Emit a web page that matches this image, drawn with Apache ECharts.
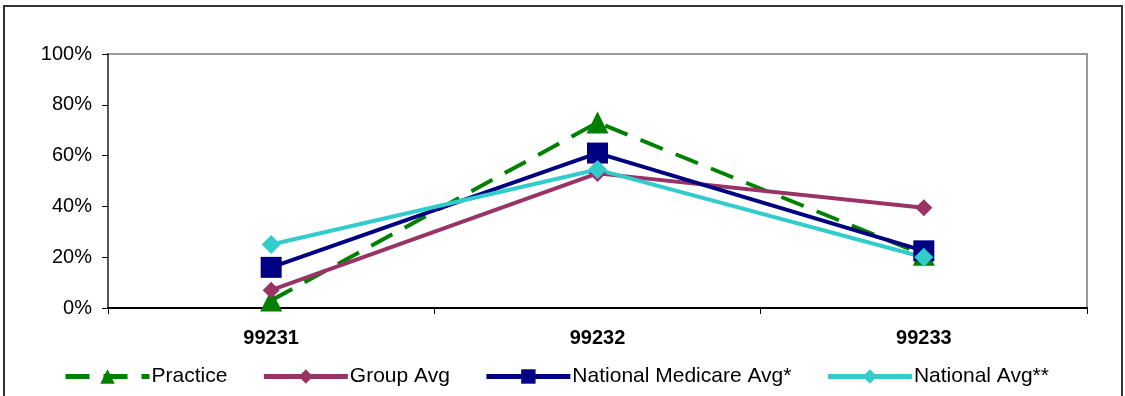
<!DOCTYPE html>
<html><head><meta charset="utf-8">
<script src="https://cdn.jsdelivr.net/npm/echarts@6/dist/echarts.min.js"></script>
<style>
html,body{margin:0;padding:0;background:#fff;}
#frame{position:absolute;left:3px;top:5px;width:1120px;height:400px;border:2px solid #333;box-sizing:border-box;}
#c{position:absolute;left:0;top:0;width:1125px;height:396px;}
</style></head>
<body>
<div id="frame"></div>
<div id="c"></div>
<script>
const categories = ['99231', '99232', '99233'];
const practice = [3, 73, 21];
const groupAvg = [7, 53, 39.5];
const nationalMedicare = [16, 61, 22.5];
const nationalAvg = [25, 54.5, 20];
const yTicks = [0, 20, 40, 60, 80, 100];

const chart = echarts.init(document.getElementById('c'), null, {renderer: 'canvas'});
const font = 'Liberation Sans, Arial, sans-serif';
function mk(name, data, color, symbol, size, dashed) {
  return {
    name, type: 'line', data, symbol, symbolSize: size,
    lineStyle: {color, width: 4, type: dashed ? [24, 14] : 'solid'},
    itemStyle: {color},
    z: 2
  };
}
chart.setOption({
  animation: false,
  grid: {left: 108, right: 38, top: 54, bottom: 88, show: true, borderColor: '#999', borderWidth: 2},
  legend: {
    top: 361, left: 58, itemWidth: 84, itemHeight: 18, itemGap: 34,
    lineStyle: {width: 5},
    textStyle: {fontFamily: font, fontSize: 21, color: '#000', padding: [0, 0, 0, -3]},
    data: ['Practice', 'Group Avg', 'National Medicare Avg*', 'National Avg**']
  },
  xAxis: {
    type: 'category', data: categories, boundaryGap: true,
    axisLine: {lineStyle: {color: '#000', width: 2}},
    axisTick: {show: true, length: 6, lineStyle: {color: '#000', width: 1}},
    axisLabel: {fontFamily: font, fontSize: 20, fontWeight: 'bold', color: '#000', margin: 20}
  },
  yAxis: {
    type: 'value', min: 0, max: 100, interval: 20,
    axisLine: {show: true, lineStyle: {color: '#555', width: 2}},
    axisTick: {show: true, length: 6, lineStyle: {color: '#000'}},
    splitLine: {show: false},
    axisLabel: {fontFamily: font, fontSize: 20, color: '#000', margin: 16,
      formatter: v => yTicks.includes(v) ? v + '%' : ''}
  },
  series: [
    mk('Practice', practice, '#008000', 'triangle', 22, true),
    mk('Group Avg', groupAvg, '#993366', 'diamond', 17, false),
    mk('National Medicare Avg*', nationalMedicare, '#000080', 'rect', 21, false),
    mk('National Avg**', nationalAvg, '#33CCCC', 'diamond', 19, false)
  ]
});
</script>
</body></html>
